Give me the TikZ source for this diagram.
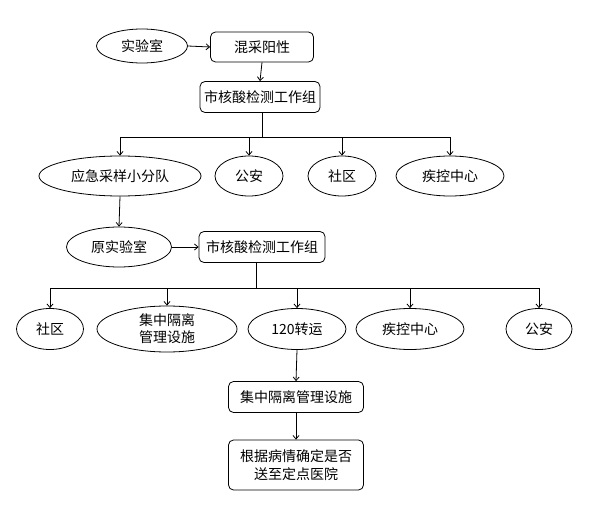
\documentclass[tikz,border=0pt]{standalone}
\usepackage{fontspec}
\setmainfont{Noto Sans CJK SC}
\usetikzlibrary{shapes.geometric,arrows.meta}
\begin{document}
\begin{tikzpicture}[x=1pt,y=-1pt,
  every node/.style={font=\fontsize{14pt}{16pt}\selectfont, text=black},
  ell/.style={draw, ellipse, inner sep=0pt, line width=0.8pt},
  rbox/.style={draw, rounded corners=5pt, inner sep=0pt, line width=0.8pt, align=center},
  arr/.style={-{Straight Barb[length=3.5pt,width=6pt]}, line width=0.8pt},
  ln/.style={line width=0.8pt}]
\useasboundingbox (0,0) rectangle (605,505);
% row 1
\node[ell, minimum width=91pt, minimum height=34pt] (lab) at (142,46) {实验室};
\node[rbox, minimum width=103pt, minimum height=30pt] (mix) at (262,47) {混采阳性};
\node[rbox, minimum width=120pt, minimum height=31pt] (grp1) at (260,97) {市核酸检测工作组};
% row 2
\node[ell, minimum width=162pt, minimum height=40pt] (team) at (120,176) {应急采样小分队};
\node[ell, minimum width=68pt, minimum height=40pt] (police1) at (249,176) {公安};
\node[ell, minimum width=68pt, minimum height=40pt] (comm1) at (342,176) {社区};
\node[ell, minimum width=108pt, minimum height=40pt] (cdc1) at (450,176) {疾控中心};
% row 3
\node[ell, minimum width=105pt, minimum height=40pt] (orig) at (119,247) {原实验室};
\node[rbox, minimum width=126pt, minimum height=31pt] (grp2) at (262,247) {市核酸检测工作组};
% row 4
\node[ell, minimum width=67pt, minimum height=41pt] (comm2) at (50,329) {社区};
\node[ell, minimum width=140pt, minimum height=46pt, align=center, font=\fontsize{14pt}{17pt}\selectfont] (isoE) at (167,329) {集中隔离\\管理设施};
\node[ell, minimum width=98pt, minimum height=41pt] (trans) at (297,329) {120转运};
\node[ell, minimum width=108pt, minimum height=41pt] (cdc2) at (410,329) {疾控中心};
\node[ell, minimum width=66pt, minimum height=41pt] (police2) at (539,329) {公安};
% row 5
\node[rbox, minimum width=135pt, minimum height=31pt] (iso) at (296,397) {集中隔离管理设施};
\node[rbox, minimum width=135pt, minimum height=50pt, font=\fontsize{14pt}{18pt}\selectfont] (decide) at (296,465) {根据病情确定是否\\送至定点医院};
% connectors
\draw[arr] (lab.east) -- (mix.west);
\draw[arr] (mix.south) -- (grp1.north);
\coordinate (b1) at (262,137);
\draw[ln] (b1 |- grp1.south) -- (b1);
\draw[arr] (b1) -| (team.north);
\draw[arr] (b1) -| (police1.north);
\draw[arr] (b1) -| (comm1.north);
\draw[arr] (b1) -| (cdc1.north);
\draw[arr] (team.south) -- (orig.north);
\draw[arr] (orig.east) -- (grp2.west);
\coordinate (b2) at (256,288);
\draw[ln] (b2 |- grp2.south) -- (b2);
\draw[arr] (b2) -| (comm2.north);
\draw[arr] (b2) -| (isoE.north);
\draw[arr] (b2) -| (trans.north);
\draw[arr] (b2) -| (cdc2.north);
\draw[arr] (b2) -| (police2.north);
\draw[arr] (trans.south) -- (iso.north);
\draw[arr] (iso.south) -- (decide.north);
\end{tikzpicture}
\end{document}
